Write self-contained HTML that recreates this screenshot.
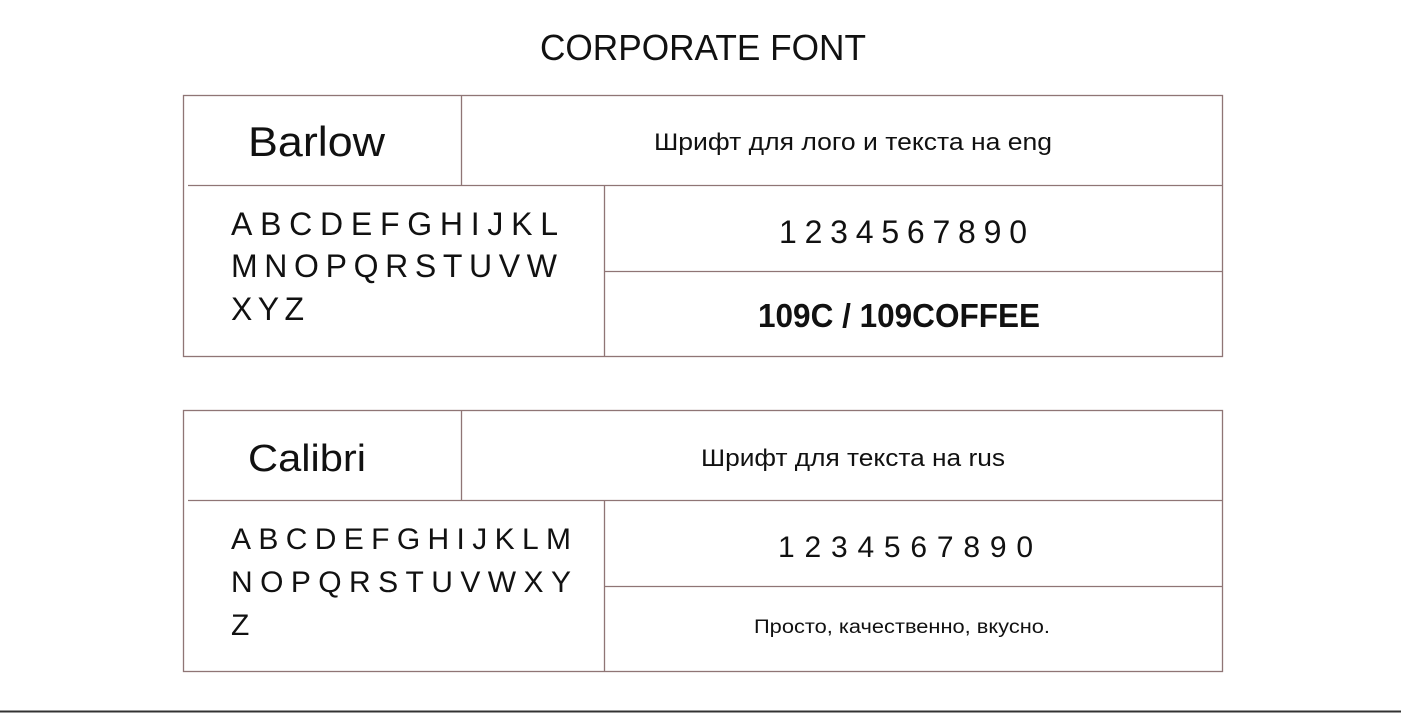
<!DOCTYPE html>
<html><head><meta charset="utf-8"><style>
html,body{margin:0;padding:0;background:#fff;width:1401px;height:713px;overflow:hidden}
svg{display:block}
text{font-family:"Liberation Sans",sans-serif;fill:#111}
</style></head><body>
<svg width="1401" height="713" viewBox="0 0 1401 713" xmlns="http://www.w3.org/2000/svg">
<text x="703" y="60" font-size="36" text-anchor="middle" textLength="326" lengthAdjust="spacingAndGlyphs" style="font-weight:300">CORPORATE FONT</text>
<g stroke="#8f7575" stroke-width="1.3" fill="none">
<rect x="183.5" y="95.5" width="1039" height="261"/>
<line x1="188" y1="185.5" x2="1222" y2="185.5"/>
<line x1="461.5" y1="95" x2="461.5" y2="185"/>
<line x1="604.5" y1="185" x2="604.5" y2="356"/>
<line x1="604" y1="271.5" x2="1222" y2="271.5"/>
<rect x="183.5" y="410.5" width="1039" height="261"/>
<line x1="188" y1="500.5" x2="1222" y2="500.5"/>
<line x1="461.5" y1="410" x2="461.5" y2="500"/>
<line x1="604.5" y1="500" x2="604.5" y2="671"/>
<line x1="604" y1="586.5" x2="1222" y2="586.5"/>
</g>
<line x1="0" y1="711.5" x2="1401" y2="711.5" stroke="#333" stroke-width="2"/>
<text x="248" y="156" font-size="42" textLength="137" lengthAdjust="spacingAndGlyphs">Barlow</text>
<text x="853" y="150" font-size="24" text-anchor="middle" textLength="398" lengthAdjust="spacingAndGlyphs">Шрифт для лого и текста на eng</text>
<text x="231" y="235" font-size="32" textLength="327" lengthAdjust="spacing">ABCDEFGHIJKL</text>
<text x="231" y="277" font-size="32" textLength="326" lengthAdjust="spacing">MNOPQRSTUVW</text>
<text x="231" y="320" font-size="32" textLength="73" lengthAdjust="spacing">XYZ</text>
<text x="779" y="243" font-size="32" textLength="248" lengthAdjust="spacing">1234567890</text>
<text x="758" y="327" font-size="33" textLength="282" lengthAdjust="spacingAndGlyphs" style="font-weight:bold">109C / 109COFFEE</text>
<text x="248" y="471" font-size="38" textLength="118" lengthAdjust="spacingAndGlyphs">Calibri</text>
<text x="853" y="466" font-size="24" text-anchor="middle" textLength="304" lengthAdjust="spacingAndGlyphs">Шрифт для текста на rus</text>
<text x="231" y="549" font-size="30" textLength="340" lengthAdjust="spacing">ABCDEFGHIJKLM</text>
<text x="231" y="592" font-size="30" textLength="340" lengthAdjust="spacing">NOPQRSTUVWXY</text>
<text x="231" y="635" font-size="30">Z</text>
<text x="778" y="557" font-size="30" textLength="255" lengthAdjust="spacing">1234567890</text>
<text x="902" y="633" font-size="19" text-anchor="middle" textLength="296" lengthAdjust="spacingAndGlyphs">Просто, качественно, вкусно.</text>
</svg>
</body></html>
